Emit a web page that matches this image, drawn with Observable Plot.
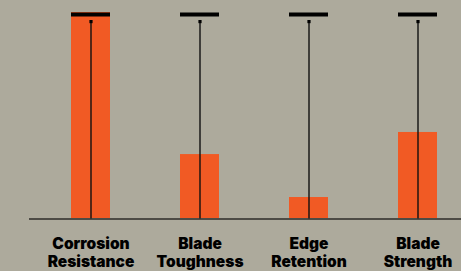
<!DOCTYPE html>
<html><head><meta charset="utf-8">
<script src="https://cdn.jsdelivr.net/npm/d3@7"></script>
<script src="https://cdn.jsdelivr.net/npm/@observablehq/plot@0.6"></script>
<style>html,body{margin:0;padding:0;background:#adaa9c;overflow:hidden;}</style>
</head><body><div id="chart"></div>
<script>
const categories = ["Corrosion\nResistance", "Blade\nToughness", "Edge\nRetention", "Blade\nStrength"];
const scores = [100, 31.2, 10.4, 41.9];
const maxScores = [100, 100, 100, 100];
const markerScores = [95.6, 95.6, 95.6, 95.6];

const rows = categories.map((c, i) => ({category: c, score: scores[i], max: maxScores[i], marker: markerScores[i]}));

const chart = Plot.plot({
  width: 461,
  height: 271,
  marginLeft: 29,
  marginRight: 0,
  marginTop: 12,
  marginBottom: 52.5,
  style: {background: "#adaa9c", fontFamily: "Inter, sans-serif", overflow: "visible"},
  x: {domain: categories, paddingInner: 0.644, paddingOuter: 0.29, align: 0.64},
  y: {domain: [0, 100], axis: null},
  marks: [
    Plot.barY(rows, {x: "category", y: "score", fill: "#f15a24"}),
    Plot.ruleY([0], {stroke: "#4d4b45", strokeWidth: 2}),
    Plot.ruleX(rows, {x: "category", y1: 0, y2: "marker", stroke: "#111", strokeWidth: 1.4}),
    Plot.dot(rows, {x: "category", y: "marker", r: 1.8, fill: "#000", symbol: "square"}),
    Plot.tickY(rows, {x: "category", y: "max", stroke: "#000", strokeWidth: 4, dy: 2}),
    Plot.axisX({tickSize: 0, tickPadding: 18, fontSize: 15.5, fontWeight: 900, fill: "#000", lineHeight: 1.13, label: null})
  ]
});
document.getElementById("chart").append(chart);
</script>
</body></html>
